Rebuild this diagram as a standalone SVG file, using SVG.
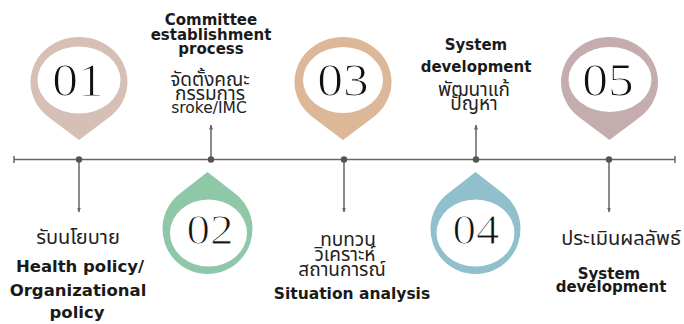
<svg xmlns="http://www.w3.org/2000/svg" width="684" height="324" viewBox="0 0 684 324">
<defs>
<style>
.num{font-family:"Liberation Serif","DejaVu Serif",serif;font-size:46px;fill:#111;text-anchor:middle;stroke:#fff;stroke-width:1.1px}
.b{font-family:"DejaVu Sans","Noto Sans",sans-serif;font-weight:bold;fill:#1a1a1a;text-anchor:middle}
.th{font-family:"DejaVu Sans","Noto Sans Thai","Noto Sans",sans-serif;fill:#222;text-anchor:middle}
.ln{stroke:#666;stroke-width:1.5;fill:none}
.inner{fill:#fff}
</style>
<marker id="ah" viewBox="0 0 10 10" refX="9" refY="5" markerWidth="5" markerHeight="5" orient="auto-start-reverse" markerUnits="userSpaceOnUse">
<path d="M0,1 L10,5 L0,9 Z" fill="#666"/>
</marker>
</defs>
<rect width="684" height="324" fill="#fff"/>

<g id="connectors">
<line class="ln" x1="14" y1="159.5" x2="675" y2="159.5"/>
<line class="ln" x1="14" y1="156" x2="14" y2="163"/>
<line class="ln" x1="675" y1="156" x2="675" y2="163"/>
<line class="ln" x1="79" y1="159.5" x2="79" y2="212" marker-end="url(#ah)"/>
<line class="ln" x1="211" y1="159.5" x2="211" y2="125" marker-end="url(#ah)"/>
<line class="ln" x1="344" y1="159.5" x2="344" y2="212" marker-end="url(#ah)"/>
<line class="ln" x1="476" y1="159.5" x2="476" y2="125" marker-end="url(#ah)"/>
<line class="ln" x1="609" y1="159.5" x2="609" y2="212" marker-end="url(#ah)"/>
<g fill="#555">
<circle cx="79" cy="159.5" r="3.2"/>
<circle cx="211" cy="159.5" r="3.2"/>
<circle cx="344" cy="159.5" r="3.2"/>
<circle cx="476" cy="159.5" r="3.2"/>
<circle cx="609" cy="159.5" r="3.2"/>
</g>
</g>

<g id="pin01">
<path d="M79,140 L48.4,116.9 A48.5,45 0 1 1 109.6,116.9 Z" fill="#d6c0b6"/>
<ellipse class="inner" cx="79" cy="80" rx="41.5" ry="33.5"/>
<text class="num" transform="translate(78,95.5) scale(1.12,1)">01</text>
</g>
<g id="pin02">
<path d="M207.5,172 L235.1,193.5 A45,45 0 1 1 179.9,193.5 Z" fill="#8fc8a8"/>
<ellipse class="inner" cx="208.5" cy="233" rx="38.5" ry="33.5"/>
<text class="num" transform="translate(210,243.5) scale(1.12,1)" style="font-size:42px">02</text>
</g>
<g id="pin03">
<path d="M343,140 L312.4,116.9 A48.5,45 0 1 1 373.6,116.9 Z" fill="#dcb898"/>
<ellipse class="inner" cx="343" cy="80" rx="40" ry="33"/>
<text class="num" transform="translate(343,95.5) scale(1.12,1)">03</text>
</g>
<g id="pin04">
<path d="M475.5,172 L503.1,193.5 A45,45 0 1 1 447.9,193.5 Z" fill="#8fc0cc"/>
<ellipse class="inner" cx="475.5" cy="233" rx="39" ry="33.5"/>
<text class="num" transform="translate(476,243.5) scale(1.12,1)" style="font-size:42px">04</text>
</g>
<g id="pin05">
<path d="M609.5,140 L578.9,116.9 A48.5,45 0 1 1 640.1,116.9 Z" fill="#c4acaf"/>
<ellipse class="inner" cx="610" cy="79.5" rx="41.5" ry="32.5"/>
<text class="num" transform="translate(608,95.5) scale(1.12,1)">05</text>
</g>

<g id="label-committee">
<text class="b" x="211" y="25" font-size="15">Committee</text>
<text class="b" x="211" y="40" font-size="15">establishment</text>
<text class="b" x="211" y="54" font-size="15">process</text>
<text class="th" x="210" y="86" font-size="19">จัดตั้งคณะ</text>
<text class="th" x="210" y="100" font-size="19">กรรมการ</text>
<text class="th" x="209" y="113" font-size="15.5">sroke/IMC</text>
</g>
<g id="label-system-top">
<text class="b" x="476" y="50" font-size="15">System</text>
<text class="b" x="476" y="72" font-size="15">development</text>
<text class="th" x="474" y="96" font-size="19">พัฒนาแก้</text>
<text class="th" x="474" y="110" font-size="19">ปัญหา</text>
</g>
<g id="label-policy">
<text class="th" x="78" y="244" font-size="20">รับนโยบาย</text>
<text class="b" x="80" y="272" font-size="16.5">Health policy/</text>
<text class="b" x="78" y="296" font-size="16.5">Organizational</text>
<text class="b" x="77" y="318" font-size="16.5">policy</text>
</g>
<g id="label-situation">
<text class="th" x="348" y="246" font-size="19">ทบทวน</text>
<text class="th" x="345" y="261" font-size="19">วิเคราะห์</text>
<text class="th" x="342" y="276" font-size="19">สถานการณ์</text>
<text class="b" x="352" y="299" font-size="15.5">Situation analysis</text>
</g>
<g id="label-evaluate">
<text class="th" x="621" y="245" font-size="20">ประเมินผลลัพธ์</text>
<text class="b" x="609" y="279" font-size="15">System</text>
<text class="b" x="611" y="292" font-size="15">development</text>
</g>
</svg>
